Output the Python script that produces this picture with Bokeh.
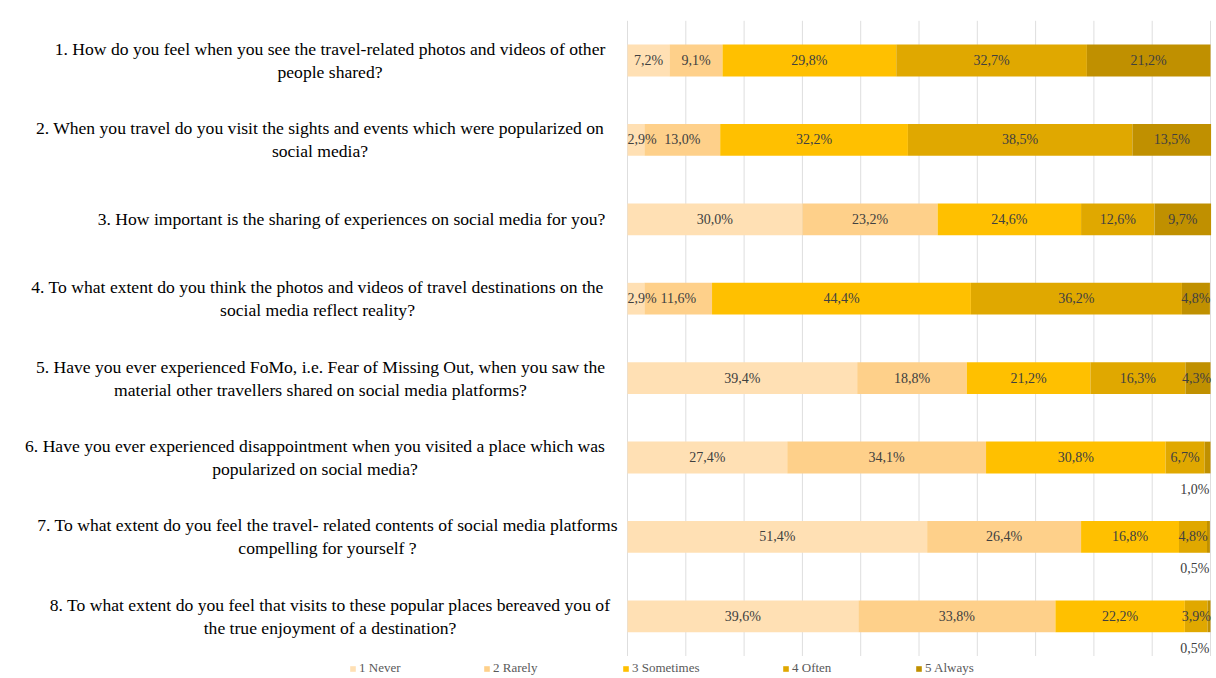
from bokeh.plotting import figure
from bokeh.models import ColumnDataSource, Range1d, Legend, LegendItem
from bokeh.core.properties import value
from bokeh.embed import file_html
from bokeh.resources import INLINE

# ---------------- data ----------------
questions = [
    ["1. How do you feel when you see the travel-related photos and videos of other", "people shared?"],
    ["2. When you travel do you visit the sights and events which were popularized on", "social media?"],
    ["3. How important is the sharing of experiences on social media for you?"],
    ["4. To what extent do you think the photos and videos of travel destinations on the", "social media reflect reality?"],
    ["5. Have you ever experienced FoMo, i.e. Fear of Missing Out, when you saw the", "material other travellers shared on social media platforms?"],
    ["6. Have you ever experienced disappointment when you visited a place which was", "popularized on social media?"],
    ["7. To what extent do you feel the travel- related contents of social media platforms", "compelling for yourself ?"],
    ["8. To what extent do you feel that visits to these popular places bereaved you of", "the true enjoyment of a destination?"],
]
categories = ["1 Never", "2 Rarely", "3 Sometimes", "4 Often", "5 Always"]
never = [7.2, 2.9, 30.0, 2.9, 39.4, 27.4, 51.4, 39.6]
rarely = [9.1, 13.0, 23.2, 11.6, 18.8, 34.1, 26.4, 33.8]
sometimes = [29.8, 32.2, 24.6, 44.4, 21.2, 30.8, 16.8, 22.2]
often = [32.7, 38.5, 12.6, 36.2, 16.3, 6.7, 4.8, 3.9]
always = [21.2, 13.5, 9.7, 4.8, 4.3, 1.0, 0.5, 0.5]
grid_ticks = [0, 10, 20, 30, 40, 50, 60, 70, 80, 90, 100]

series = [never, rarely, sometimes, often, always]

# ---------------- style / layout ----------------
colors = ["#FFE0B4", "#FED08A", "#FFC000", "#E0A800", "#C09000"]
FONT = "Liberation Serif"
W, H = 1216, 678
PX0, PX_PER = 627.0, 5.83          # px of 0 %, px per 1 %
ROW0, ROW_PX = 60.0, 79.4          # px of first row centre, px per row
label_cx_px = [329.5, 319.5, 351, 317, 320, 314.5, 327, 329.5]
legend_x = [349, 483, 622, 782, 915]


def px_to_pct(px):
    return (px - PX0) / PX_PER


p = figure(width=W, height=H,
           x_range=Range1d(-PX0 / PX_PER, (W - PX0) / PX_PER),
           y_range=Range1d((H - ROW0) / ROW_PX, -ROW0 / ROW_PX),
           output_backend="svg", toolbar_location=None, min_border=0,
           x_axis_type=None, y_axis_type=None)
p.outline_line_color = None
p.background_fill_color = "white"
p.border_fill_color = "white"

rows = list(range(len(questions)))
n = len(rows)

# grid lines
p.segment(x0=grid_ticks, y0=[-0.5] * len(grid_ticks), x1=grid_ticks, y1=[n - 0.5] * len(grid_ticks),
          line_color="#DEDEDE", line_width=1)

# stacked bars
left = [0.0] * n
renderers = []
lab_x, lab_y, lab_t = [], [], []
small_x, small_y, small_t = [], [], []
for vals, col, cat in zip(series, colors, categories):
    right = [l + v for l, v in zip(left, vals)]
    src = ColumnDataSource(dict(y=rows, left=left, right=right))
    r = p.hbar(y="y", left="left", right="right", height=0.4, source=src,
               fill_color=col, line_color=None)
    renderers.append((cat, r))
    for i, v in enumerate(vals):
        txt = f"{v:.1f}".replace(".", ",") + "%"
        if v >= 1.5:
            mid = min(max(left[i] + v / 2, 2.5), 97.6)
            lab_x.append(mid); lab_y.append(i); lab_t.append(txt)
        else:
            small_x.append(97.3); small_y.append(i + 0.40); small_t.append(txt)
    left = right

p.text(x=lab_x, y=lab_y, text=lab_t, text_font=value(FONT), text_font_size="14px",
       text_color="#404040", text_align="center", text_baseline="middle")
p.text(x=small_x, y=small_y, text=small_t, text_font=value(FONT), text_font_size="14px",
       text_color="#404040", text_align="center", text_baseline="middle")

# question labels
qx, qy, qt = [], [], []
for i, q in enumerate(questions):
    cx = px_to_pct(label_cx_px[i])
    if len(q) == 1:
        qx.append(cx); qy.append(i); qt.append(q[0])
    else:
        qx += [cx, cx]; qy += [i - 0.145, i + 0.145]; qt += q
p.text(x=qx, y=qy, text=qt, text_font=value(FONT), text_font_size="17.6px",
       text_color="#000000", text_align="center", text_baseline="middle")

# legend
for (cat, r), lx in zip(renderers, legend_x):
    lg = Legend(items=[LegendItem(label=cat, renderers=[r])], location=(lx, 2),
                orientation="horizontal", padding=0, margin=0, spacing=0,
                glyph_width=7, glyph_height=7, label_standoff=3, label_height=14,
                label_text_font=FONT, label_text_font_size="13px",
                label_text_color="#595959", border_line_color=None,
                background_fill_alpha=0)
    p.add_layout(lg, "center")

open("out.html", "w").write(file_html(p, INLINE))
